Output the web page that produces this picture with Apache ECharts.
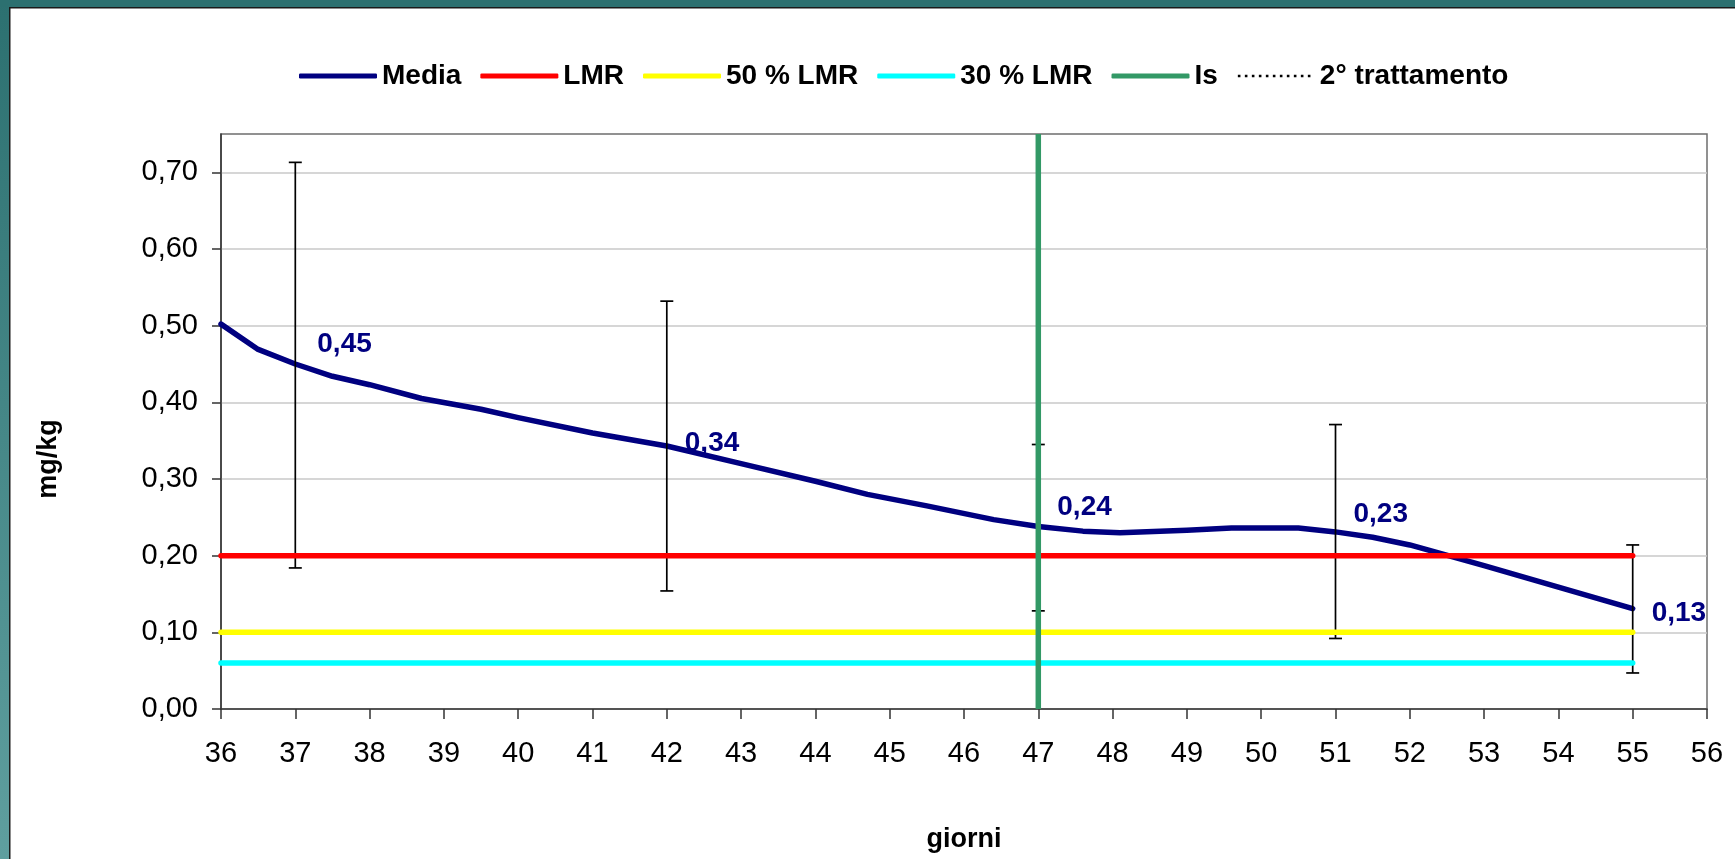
<!DOCTYPE html>
<html>
<head>
<meta charset="utf-8">
<script src="https://cdn.jsdelivr.net/npm/echarts@6/dist/echarts.min.js"></script>
<style>
html,body{margin:0;padding:0;background:#fff;}
#chart{width:1735px;height:859px;}
</style>
</head>
<body>
<div id="chart"></div>
<script>
// ---- data ----
const mediaDays   = [36, 36.5, 37, 37.5, 38, 38.7, 39.5, 40, 41, 42, 43, 44, 44.7, 45.5, 46.4, 47, 47.6, 48.1, 49, 49.6, 50.5, 51, 51.5, 52, 53, 54, 55];
const mediaValues = [0.502, 0.469, 0.450, 0.434, 0.423, 0.405, 0.391, 0.380, 0.360, 0.343, 0.320, 0.297, 0.280, 0.265, 0.247, 0.238, 0.232, 0.230, 0.233, 0.236, 0.236, 0.231, 0.224, 0.214, 0.187, 0.159, 0.131];
const sampleDays   = [37, 42, 47, 51, 55];
const sampleMeans  = [0.45, 0.34, 0.24, 0.23, 0.13];
const errLow       = [0.184, 0.154, 0.128, 0.092, 0.047];
const errHigh      = [0.713, 0.532, 0.345, 0.371, 0.214];
const lmr = 0.20;
const lmr50 = 0.10;
const lmr30 = 0.06;
const refStartDay = 36;
const refEndDay = 55;
const isDay = 47;
const secondTreatmentDay = 47;
const yTicks = [0, 0.1, 0.2, 0.3, 0.4, 0.5, 0.6, 0.7];
const legendNames = ['Media', 'LMR', '50 % LMR', '30 % LMR', 'Is', '2° trattamento'];

// ---- chart ----
const FONT = 'Liberation Sans, Arial, sans-serif';
const fmt = v => v.toFixed(2).replace('.', ',');
const labelOffsets = [[22, -20], [18, -5], [19, -18], [18, -18], [19, 4]];
const YMAX = 0.75;
const LW = 5.5;

// dotted legend icon (bbox 78 x 5, square dots centred vertically)
let dotPath = 'path://M0,0h0.01v0.01h-0.01z M0,4.99h0.01v0.01h-0.01z';
for (let x = 1; x <= 75; x += 7) dotPath += ' M' + x + ',1.2h2.6v2.6h-2.6z';
dotPath += ' M77.99,0h0.01v0.01h-0.01z';

const chart = echarts.init(document.getElementById('chart'), null, {renderer: 'canvas'});

function hLine(name, val, color, z) {
  return {
    name: name, type: 'line', symbol: 'none', z: z,
    data: [[refStartDay, val], [refEndDay, val]],
    lineStyle: {color: color, width: LW, cap: 'round'},
    itemStyle: {color: color},
    emphasis: {disabled: true}, silent: true
  };
}

const legendColors = {'Media': '#000080', 'LMR': '#ff0000', '50 % LMR': '#ffff00', '30 % LMR': '#00ffff', 'Is': '#339966', '2° trattamento': '#000000'};

const option = {
  animation: false,
  backgroundColor: '#ffffff',
  textStyle: {fontFamily: FONT},
  grid: {left: 221, right: 28, top: 134, bottom: 150, outerBoundsMode: 'none', containLabel: false,
         show: true, borderColor: '#6e6e6e', borderWidth: 1.5, backgroundColor: 'transparent'},
  legend: {
    data: legendNames.map(n => ({
      name: n,
      icon: n === '2° trattamento' ? dotPath : 'roundRect',
      itemStyle: {color: legendColors[n], opacity: 1, borderWidth: 0}
    })),
    left: 294, top: 57,
    itemWidth: 78, itemHeight: 5, itemGap: 19,
    textStyle: {fontFamily: FONT, fontSize: 28, fontWeight: 'bold', color: '#000'}
  },
  xAxis: {
    type: 'value', min: 36, max: 56, interval: 1,
    name: 'giorni', nameLocation: 'middle', nameGap: 117,
    nameTextStyle: {fontFamily: FONT, fontSize: 27, fontWeight: 'bold', color: '#000'},
    axisLine: {show: true, lineStyle: {color: '#333', width: 1.5}},
    axisTick: {show: true, length: 10, lineStyle: {color: '#333', width: 1.5}},
    axisLabel: {fontFamily: FONT, fontSize: 29, color: '#000', margin: 30},
    splitLine: {show: false}
  },
  yAxis: {
    type: 'value', min: 0, max: YMAX, interval: 0.1,
    axisLine: {show: true, lineStyle: {color: '#333', width: 1.5}},
    axisTick: {show: true, length: 9, inside: false, customValues: yTicks, lineStyle: {color: '#333', width: 1.5}},
    axisLabel: {fontFamily: FONT, fontSize: 29, color: '#000', margin: 23, customValues: yTicks, formatter: v => fmt(v)},
    splitLine: {show: true, lineStyle: {color: '#c8c8c8', width: 1.5}}
  },
  graphic: [
    {type: 'rect', shape: {x: 0, y: 0, width: 9, height: 859}, style: {fill: new echarts.graphic.LinearGradient(0, 0, 0, 1, [{offset: 0, color: '#2c7070'}, {offset: 1, color: '#5f9f9f'}])}, z: 100},
    {type: 'rect', shape: {x: 0, y: 0, width: 1735, height: 7}, style: {fill: '#2c7070'}, z: 100},
    {type: 'rect', shape: {x: 9, y: 7, width: 1.5, height: 852}, style: {fill: '#1a1a1a'}, z: 100},
    {type: 'rect', shape: {x: 9, y: 7, width: 1726, height: 1.5}, style: {fill: '#1a1a1a'}, z: 100},
    {type: 'text', x: 49, y: 459, rotation: Math.PI / 2,
     style: {text: 'mg/kg', font: 'bold 27px ' + FONT, fill: '#000', textAlign: 'center', textVerticalAlign: 'middle'}, z: 100}
  ],
  series: [
    {
      name: 'Media', type: 'line', symbol: 'none', z: 2, smooth: false,
      data: mediaDays.map((d, i) => [d, mediaValues[i]]),
      lineStyle: {color: '#000080', width: LW, cap: 'round', join: 'round'},
      itemStyle: {color: '#000080'}, silent: true
    },
    {
      name: 'errbars', type: 'custom', z: 3, silent: true,
      data: sampleDays.map((d, i) => [d, errLow[i], errHigh[i]]),
      renderItem: function (params, api) {
        const lo = api.coord([api.value(0), api.value(1)]);
        const hi = api.coord([api.value(0), api.value(2)]);
        const cw = 6.5;
        const st = {stroke: '#000', lineWidth: 1.7};
        return {type: 'group', children: [
          {type: 'line', shape: {x1: lo[0], y1: lo[1], x2: hi[0], y2: hi[1]}, style: st},
          {type: 'line', shape: {x1: lo[0] - cw, y1: lo[1], x2: lo[0] + cw, y2: lo[1]}, style: st},
          {type: 'line', shape: {x1: hi[0] - cw, y1: hi[1], x2: hi[0] + cw, y2: hi[1]}, style: st}
        ]};
      }
    },
    hLine('LMR', lmr, '#ff0000', 4),
    hLine('50 % LMR', lmr50, '#ffff00', 4),
    hLine('30 % LMR', lmr30, '#00ffff', 4),
    {
      name: '2° trattamento', type: 'line', symbol: 'none', z: 5, silent: true,
      data: [[secondTreatmentDay, 0], [secondTreatmentDay, YMAX]],
      lineStyle: {color: '#000', width: 2, type: 'dotted'},
      itemStyle: {color: '#000'}
    },
    {
      name: 'Is', type: 'line', symbol: 'none', z: 6, silent: true,
      data: [[isDay, 0], [isDay, YMAX]],
      lineStyle: {color: '#339966', width: LW},
      itemStyle: {color: '#339966'}
    },
    {
      name: 'labels', type: 'scatter', symbolSize: 0, z: 7, silent: true,
      itemStyle: {opacity: 1, color: '#000080'},
      data: sampleDays.map((d, i) => ({
        value: [d, sampleMeans[i]],
        label: {offset: labelOffsets[i]}
      })),
      label: {
        show: true, position: 'right', distance: 0,
        formatter: p => fmt(p.value[1]),
        fontFamily: FONT, fontSize: 28, fontWeight: 'bold', color: '#000080'
      }
    }
  ]
};
chart.setOption(option);
</script>
</body>
</html>
